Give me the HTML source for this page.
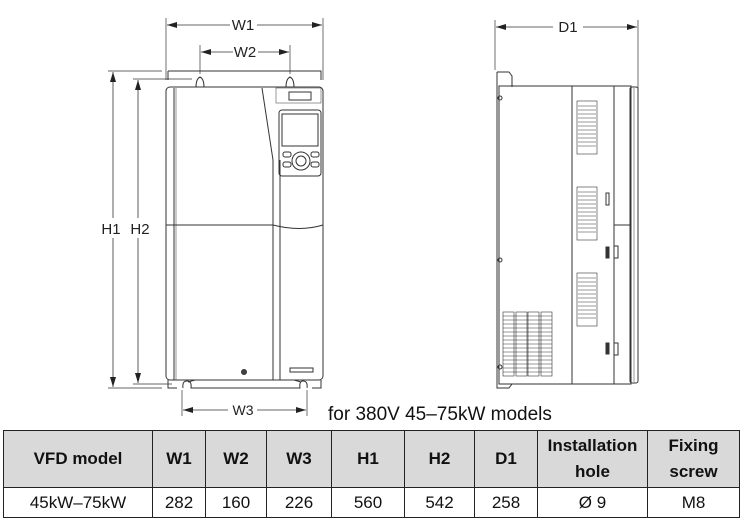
<!DOCTYPE html>
<html><head><meta charset="utf-8"><style>
body{margin:0;width:744px;height:520px;background:#fff;overflow:hidden;font-family:"Liberation Sans",Arial,sans-serif}
svg{position:absolute;left:0;top:0}
table{position:absolute;left:3px;top:430px;border-collapse:collapse;width:737px}
td{border:1.5px solid #222;text-align:center;font-size:17px;color:#111;padding:0}
tr.h td{background:#d9d9d9;font-weight:bold;height:56px;line-height:26px}
tr.d td{height:29px}
</style></head><body>
<svg width="744" height="430" viewBox="0 0 744 430" fill="none" stroke="#333" stroke-width="1">
<defs><marker id="a" markerWidth="10" markerHeight="6" refX="10" refY="3" orient="auto-start-reverse" markerUnits="userSpaceOnUse"><path d="M0,0 L10,3 L0,6z" fill="#222" stroke="none"/></marker></defs>
<line x1="166" y1="18" x2="166" y2="80" stroke-width=".7"/><line x1="323" y1="18" x2="323" y2="80" stroke-width=".7"/>
<line x1="167" y1="25" x2="230" y2="25" marker-start="url(#a)" stroke-width=".8"/><line x1="257" y1="25" x2="322" y2="25" marker-end="url(#a)" stroke-width=".8"/>
<text x="243" y="30" font-size="15" fill="#222" stroke="none" text-anchor="middle">W1</text>
<line x1="200" y1="45" x2="200" y2="74" stroke-width=".7"/><line x1="290" y1="45" x2="290" y2="74" stroke-width=".7"/>
<line x1="201" y1="52" x2="233" y2="52" marker-start="url(#a)" stroke-width=".8"/><line x1="258" y1="52" x2="289" y2="52" marker-end="url(#a)" stroke-width=".8"/>
<text x="245" y="57" font-size="15" fill="#222" stroke="none" text-anchor="middle">W2</text>
<line x1="108" y1="71" x2="162" y2="71" stroke-width=".7"/><line x1="133" y1="79" x2="192" y2="79" stroke-width=".7"/>
<line x1="108" y1="388" x2="162" y2="388" stroke-width=".7"/><line x1="133" y1="384" x2="172" y2="384" stroke-width=".7"/>
<line x1="113" y1="72" x2="113" y2="218" marker-start="url(#a)" stroke-width=".8"/><line x1="113" y1="238" x2="113" y2="387" marker-end="url(#a)" stroke-width=".8"/>
<line x1="138" y1="80" x2="138" y2="218" marker-start="url(#a)" stroke-width=".8"/><line x1="138" y1="238" x2="138" y2="383" marker-end="url(#a)" stroke-width=".8"/>
<text x="111" y="234" font-size="15" fill="#222" stroke="none" text-anchor="middle">H1</text>
<text x="140" y="234" font-size="15" fill="#222" stroke="none" text-anchor="middle">H2</text>
<path d="M168,71 H321 V80 M168,71 V80"/>
<path d="M196,87 Q196,79 200,77 Q204,79 204,87 M286,87 Q286,79 290,77 Q294,79 294,87"/>
<rect x="166" y="87" width="157" height="293" rx="4"/>
<line x1="174" y1="88" x2="174" y2="380"/><line x1="176" y1="88" x2="176" y2="380" stroke-width=".5"/>
<path d="M262,88 L273,160 V380 M280,160 V380"/>
<rect x="276" y="88" width="45" height="15" stroke-width=".5"/>
<rect x="289" y="92" width="22" height="8"/>
<rect x="279" y="110" width="42" height="66" rx="3"/>
<rect x="282" y="114" width="36" height="32"/>
<circle cx="301" cy="161" r="9"/><circle cx="301" cy="161" r="5"/>
<rect x="283" y="152" width="8" height="5" rx="2"/><rect x="311" y="152" width="8" height="5" rx="2"/>
<rect x="283" y="162" width="8" height="5" rx="2"/><rect x="311" y="162" width="8" height="5" rx="2"/>
<path d="M166,225 H273 Q300,232 323,225"/>
<circle cx="244" cy="372" r="2.5" fill="#444"/>
<rect x="290" y="368" width="23" height="4"/>
<path d="M168,380 V388 H177 M321,380 V388 H312 M183,388 Q182,381 187,381 Q192,381 191,388 H300 Q299,381 303,381 Q308,381 307,388 M195,380 L188,382 M294,380 L301,382"/>
<line x1="182" y1="390" x2="182" y2="416" stroke-width=".7"/><line x1="307" y1="390" x2="307" y2="416" stroke-width=".7"/>
<line x1="183" y1="410" x2="228" y2="410" marker-start="url(#a)" stroke-width=".8"/><line x1="257" y1="410" x2="306" y2="410" marker-end="url(#a)" stroke-width=".8"/>
<text x="243" y="415" font-size="14" fill="#222" stroke="none" text-anchor="middle">W3</text>
<text x="328" y="420" font-size="19" fill="#111" stroke="none">for 380V 45–75kW models</text>
<line x1="495" y1="20" x2="495" y2="70" stroke-width=".7"/><line x1="638" y1="20" x2="638" y2="90" stroke-width=".7"/>
<line x1="496" y1="27" x2="553" y2="27" marker-start="url(#a)" stroke-width=".8"/><line x1="583" y1="27" x2="637" y2="27" marker-end="url(#a)" stroke-width=".8"/>
<text x="568" y="32" font-size="15" fill="#222" stroke="none" text-anchor="middle">D1</text>
<path d="M497,72 H509 L512,76 V87 M497,72 V388 H509 L512,384"/>
<rect x="499" y="86" width="132" height="298" stroke-width="1"/>
<line x1="572" y1="86" x2="572" y2="384"/><line x1="614" y1="86" x2="614" y2="384"/>
<line x1="614" y1="225" x2="631" y2="225"/>
<rect x="630" y="87" width="8" height="296" rx="2"/><line x1="634" y1="88" x2="634" y2="382" stroke-width=".5"/>
<circle cx="500" cy="98" r="2"/><circle cx="500" cy="260" r="2"/><circle cx="500" cy="367" r="2"/>
<g stroke-width=".6">
<rect x="577" y="101" width="20" height="53"/><rect x="577" y="187" width="20" height="53"/><rect x="577" y="273" width="20" height="53"/>
<path d="M578,106H596M578,110H596M578,114H596M578,118H596M578,122H596M578,126H596M578,130H596M578,134H596M578,138H596M578,142H596M578,146H596"/>
<path d="M578,192H596M578,196H596M578,200H596M578,204H596M578,208H596M578,212H596M578,216H596M578,220H596M578,224H596M578,228H596M578,232H596"/>
<path d="M578,278H596M578,282H596M578,286H596M578,290H596M578,294H596M578,298H596M578,302H596M578,306H596M578,310H596M578,314H596M578,318H596"/>
<rect x="503" y="312" width="11" height="64"/><rect x="516" y="312" width="11" height="64"/><rect x="528" y="312" width="11" height="64"/><rect x="541" y="312" width="11" height="64"/>
<path d="M503,316H552M503,320H552M503,324H552M503,328H552M503,332H552M503,336H552M503,340H552M503,344H552M503,348H552M503,352H552M503,356H552M503,360H552M503,364H552M503,368H552M503,372H552"/>
</g>
<rect x="606" y="193" width="3" height="12" /><rect x="606" y="247" width="3" height="11" fill="#333"/><rect x="606" y="343" width="3" height="11" fill="#333"/>
<path d="M614,246 H618 V258 H614 M614,343 H618 V355 H614"/>
</svg>
<table>
<tr class="h"><td style="width:148px">VFD model</td><td style="width:52px">W1</td><td style="width:60px">W2</td><td style="width:64px">W3</td><td style="width:72px">H1</td><td style="width:69px">H2</td><td style="width:62px">D1</td><td style="width:109px">Installation<br>hole</td><td>Fixing<br>screw</td></tr>
<tr class="d"><td>45kW–75kW</td><td>282</td><td>160</td><td>226</td><td>560</td><td>542</td><td>258</td><td>Ø 9</td><td>M8</td></tr>
</table>
</body></html>
